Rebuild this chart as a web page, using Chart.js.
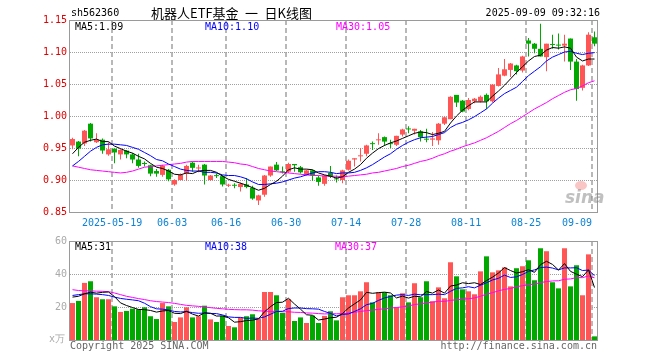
<!DOCTYPE html>
<html>
<head>
<meta charset="utf-8">
<script src="https://cdn.jsdelivr.net/npm/chart.js@4.4.1/dist/chart.umd.min.js"></script>
<style>
  body { margin: 0; background: #fff; }
  #wrap { position: relative; width: 660px; height: 360px; overflow: hidden;
          font-family: "DejaVu Sans Mono", monospace; font-size: 10px; }
  canvas { position: absolute; left: 0; }
  .t { position: absolute; white-space: pre; line-height: 12px; }
</style>
</head>
<body>
<div id="wrap">
  <canvas id="kChart" width="660" height="232" style="top:0"></canvas>
  <canvas id="volChart" width="660" height="128" style="top:232px"></canvas>

  <div class="t" style="left:71px;top:7px">sh562360</div>
  <div class="t" style="left:151px;top:5px;font:13px 'Noto Sans CJK SC';line-height:16px">机器人ETF基金&ensp;一&ensp;日K线图</div>
  <div class="t" style="right:60px;top:7px">2025-09-09 09:32:16</div>

  <div class="t" style="left:75px;top:21px;color:#000">MA5:1.09</div>
  <div class="t" style="left:205px;top:21px;color:#00f">MA10:1.10</div>
  <div class="t" style="left:336px;top:21px;color:#f0f">MA30:1.05</div>

  <div class="t" style="left:75px;top:241px;color:#000">MA5:31</div>
  <div class="t" style="left:205px;top:241px;color:#00f">MA10:38</div>
  <div class="t" style="left:335px;top:241px;color:#f0f">MA30:37</div>

  <div class="t" style="left:49px;top:333px;color:#aaa">x万</div>
  <div class="t" style="left:70px;top:340px;color:#666">Copyright 2025 SINA.COM</div>
  <div class="t" style="right:63px;top:340px;color:#666">http://finance.sina.com.cn</div>

  <div style="position:absolute;left:575px;top:181px;width:12px;height:9px;border-radius:50%;background:rgba(240,90,90,0.35)"></div>
  <div class="t" style="left:565px;top:188px;font:italic bold 17px 'DejaVu Sans';line-height:18px;color:rgba(130,130,130,0.5)">sina</div>
</div>

<script>
// trading days 2025-05-08 .. 2025-09-09
const dates = [
  '05-08','05-09','05-12','05-13','05-14','05-15','05-16','05-19','05-20','05-21',
  '05-22','05-23','05-26','05-27','05-28','05-29','05-30','06-03','06-04','06-05',
  '06-06','06-09','06-10','06-11','06-12','06-13','06-16','06-17','06-18','06-19',
  '06-20','06-23','06-24','06-25','06-26','06-27','06-30','07-01','07-02','07-03',
  '07-04','07-07','07-08','07-09','07-10','07-11','07-14','07-15','07-16','07-17',
  '07-18','07-21','07-22','07-23','07-24','07-25','07-28','07-29','07-30','07-31',
  '08-01','08-04','08-05','08-06','08-07','08-08','08-11','08-12','08-13','08-14',
  '08-15','08-18','08-19','08-20','08-21','08-22','08-25','08-26','08-27','08-28',
  '08-29','09-01','09-02','09-03','09-04','09-05','09-08','09-09'
];
const tickDates = ['05-19','06-03','06-16','06-30','07-14','07-28','08-11','08-25','09-09'];
const tickText = ['2025-05-19','06-03','06-16','06-30','07-14','07-28','08-11','08-25','09-09     '];
const priceTicks = [0.85, 0.90, 0.95, 1.00, 1.05, 1.10, 1.15];
const volTicks = [0, 20, 40, 60];

const opens = [
  .954,.960,.957,.988,.959,.963,.940,.949,.940,.946,
  .940,.932,.926,.923,.914,.908,.916,.893,.900,.910,
  .927,.918,.924,.900,.907,.906,.891,.892,.889,.893,
  .888,.868,.877,.907,.924,.913,.913,.925,.920,.908,
  .915,.904,.894,.911,.902,.900,.916,.932,.937,.941,
  .957,.962,.967,.957,.955,.971,.980,.977,.976,.964,
  .963,.962,.988,.995,1.033,1.024,1.011,1.023,1.023,1.033,
  1.023,1.047,1.063,1.072,1.079,1.071,1.118,1.113,1.105,1.092,
  1.112,1.111,1.110,1.121,1.085,1.044,1.079,1.123
];
const closes = [
  .964,.949,.977,.965,.963,.946,.948,.943,.947,.940,
  .932,.922,.925,.910,.910,.922,.901,.900,.908,.922,
  .919,.919,.907,.907,.906,.893,.892,.891,.894,.889,
  .871,.876,.907,.921,.915,.912,.925,.923,.912,.915,
  .907,.897,.907,.905,.901,.915,.930,.934,.938,.954,
  .956,.963,.960,.956,.969,.979,.979,.980,.967,.963,
  .965,.988,.998,1.030,1.021,1.007,1.025,1.027,1.030,1.023,
  1.049,1.065,1.073,1.082,1.070,1.093,1.113,1.105,1.093,1.113,
  1.111,1.110,1.113,1.085,1.042,1.079,1.127,1.113
];
const highs = [
  .966,.961,.978,.989,.973,.965,.959,.949,.948,.947,
  .942,.941,.929,.924,.917,.924,.917,.901,.910,.924,
  .929,.924,.925,.908,.910,.908,.894,.895,.896,.903,
  .891,.877,.908,.921,.928,.921,.927,.925,.922,.916,
  .916,.907,.908,.922,.907,.916,.932,.934,.950,.955,
  .960,.973,.968,.963,.969,.980,.984,.980,.978,.980,
  .975,.989,.999,1.031,1.033,1.025,1.028,1.028,1.032,1.035,
  1.050,1.075,1.089,1.083,1.080,1.094,1.122,1.114,1.144,1.113,
  1.127,1.129,1.127,1.121,1.089,1.080,1.131,1.132
];
const lows = [
  .948,.937,.953,.960,.958,.941,.938,.926,.932,.934,
  .926,.919,.921,.906,.905,.905,.898,.891,.900,.899,
  .913,.912,.893,.899,.903,.890,.889,.887,.882,.887,
  .869,.861,.874,.905,.914,.910,.911,.913,.910,.907,
  .899,.891,.891,.903,.896,.895,.915,.921,.929,.937,
  .947,.955,.953,.950,.953,.968,.973,.971,.960,.959,
  .953,.955,.986,.995,1.014,1.006,1.009,1.020,1.021,1.011,
  1.021,1.046,1.062,1.061,1.065,1.068,1.093,1.098,1.093,1.070,
  1.105,1.104,1.085,1.072,1.024,1.040,1.078,1.109
];
const ma5 = [
  .941,.951,.959,.962,.964,.960,.960,.953,.949,.945,
  .942,.937,.933,.926,.920,.918,.914,.909,.908,.911,
  .910,.914,.915,.915,.912,.906,.901,.898,.895,.892,
  .888,.884,.887,.893,.898,.906,.916,.919,.917,.917,
  .916,.911,.908,.906,.903,.905,.912,.917,.924,.934,
  .942,.949,.954,.958,.961,.965,.969,.973,.975,.974,
  .971,.973,.976,.989,1.000,1.009,1.016,1.022,1.022,1.022,
  1.031,1.039,1.048,1.058,1.068,1.077,1.086,1.093,1.095,1.103,
  1.107,1.106,1.108,1.106,1.092,1.086,1.089,1.089
];
const ma10 = [
  .922,.929,.937,.945,.951,.955,.956,.956,.955,.954,
  .951,.948,.943,.938,.932,.930,.925,.921,.917,.915,
  .914,.914,.912,.912,.911,.908,.907,.907,.905,.902,
  .897,.893,.893,.894,.895,.897,.900,.903,.905,.908,
  .911,.913,.913,.912,.910,.911,.911,.912,.915,.919,
  .924,.930,.936,.941,.948,.954,.959,.963,.966,.967,
  .968,.971,.974,.982,.987,.990,.994,.999,1.005,1.011,
  1.020,1.028,1.035,1.040,1.045,1.054,1.063,1.070,1.077,1.086,
  1.092,1.096,1.100,1.101,1.098,1.096,1.098,1.099
];
const ma30 = [
  .922,.920,.918,.916,.915,.914,.913,.912,.911,.912,
  .914,.917,.920,.921,.922,.923,.924,.925,.926,.928,
  .929,.929,.929,.929,.929,.929,.928,.927,.925,.924,
  .921,.918,.916,.914,.913,.912,.911,.910,.909,.908,
  .907,.907,.906,.906,.906,.905,.906,.907,.908,.909,
  .911,.912,.914,.916,.918,.921,.923,.926,.929,.931,
  .934,.938,.941,.945,.948,.952,.955,.958,.962,.966,
  .971,.976,.982,.988,.993,.999,1.005,1.011,1.016,1.021,
  1.027,1.032,1.037,1.041,1.043,1.047,1.052,1.055
];

const volumes = [
  22.4,23.7,34.6,35.6,25.9,24.7,24.7,20.4,17.0,17.6,
  19.0,18.6,19.8,14.4,12.7,22.4,20.4,10.9,13.7,19.8,
  13.7,14.4,20.8,12.5,10.9,14.6,8.5,7.7,13.7,14.4,
  15.6,12.7,29.1,29.1,27.1,16.4,24.7,11.5,13.7,10.3,
  14.8,10.3,14.6,17.4,11.9,25.9,27.1,27.1,29.5,35.0,
  22.8,28.9,28.9,27.1,19.8,28.3,22.8,34.4,25.9,35.6,
  23.5,31.9,25.3,47.1,38.6,30.7,29.5,27.7,41.6,50.7,
  41.0,42.2,44.0,32.5,43.5,44.7,48.3,36.2,55.6,53.8,
  35.0,31.3,55.6,32.5,45.3,27.1,51.9,2.2
];
const vma5 = [
  26.0,26.5,28.0,29.0,28.4,28.9,29.1,26.3,22.5,20.9,
  19.7,18.5,18.4,17.9,16.9,17.6,17.9,16.2,16.0,17.4,
  15.7,14.5,16.5,16.2,14.5,14.6,13.5,10.8,11.1,11.8,
  12.0,12.8,17.1,20.2,22.7,22.9,25.3,21.8,18.7,15.3,
  15.0,12.1,12.7,13.5,13.8,16.0,19.4,21.9,24.3,28.9,
  28.3,28.7,29.0,28.5,25.5,26.6,25.4,26.5,26.2,29.4,
  28.4,30.3,28.4,32.7,33.3,34.7,34.2,34.7,33.6,36.0,
  38.1,40.6,43.9,42.1,40.6,41.4,42.6,41.0,45.7,47.7,
  45.8,42.4,46.3,41.6,39.9,38.4,42.5,31.8
];
const vma10 = [
  27.0,27.5,28.0,28.0,27.8,27.5,27.0,26.0,25.2,24.7,
  24.3,23.8,22.3,20.2,18.9,18.7,18.2,17.3,17.0,17.2,
  16.6,16.2,16.3,16.1,16.0,15.2,14.0,13.7,13.7,13.1,
  13.3,13.1,14.0,15.6,17.3,17.4,19.1,19.4,19.4,19.0,
  18.9,18.7,17.3,16.1,14.6,15.5,15.8,17.3,18.9,21.4,
  22.2,24.0,25.5,26.4,27.2,27.5,27.0,27.8,27.4,27.5,
  27.5,27.8,27.5,29.5,31.3,31.6,32.3,31.6,33.2,34.7,
  36.4,37.4,39.3,37.9,38.3,39.7,41.6,42.5,43.9,44.2,
  43.6,42.5,43.7,43.7,43.8,42.1,42.4,39.0
];
const vma30 = [
  30.5,30.0,29.8,29.8,29.6,29.5,29.3,28.5,27.5,26.5,
  25.8,25.1,24.5,23.8,23.3,23.0,22.7,22.2,21.6,21.0,
  20.7,20.4,20.0,19.6,19.2,18.9,18.6,18.4,18.3,18.3,
  18.1,17.7,17.5,17.3,17.4,17.1,17.1,16.8,16.7,16.4,
  16.3,16.0,15.8,15.9,15.9,16.0,16.3,16.8,17.3,17.8,
  18.1,18.6,18.9,19.4,19.7,20.1,20.6,21.5,21.9,22.6,
  22.9,23.5,23.4,24.0,24.4,24.8,25.0,25.5,26.5,27.8,
  28.7,29.8,30.7,31.2,32.3,32.9,33.6,33.9,34.8,35.4,
  35.8,35.9,36.8,37.0,37.8,37.8,38.8,37.7
];

const RED = '#ff5555', GREEN = '#00a800';
const mono = { family: 'DejaVu Sans Mono', size: 10 };
const tickIdx = tickDates.map(d => dates.indexOf(d));
const isUp = i => closes[i] >= opens[i];
const candleColor = ctx => isUp(ctx.dataIndex) ? RED : GREEN;
const pts = arr => arr.map((v, i) => ({ x: i, y: v }));

// dashed date lines and dotted value lines (drawn as little rects), then the grey box
const frame = {
  id: 'frame',
  beforeDatasetsDraw(chart) {
    const a = chart.chartArea, c = chart.ctx;
    const xs = chart.scales.x, ys = chart.scales.y;
    c.save();
    c.fillStyle = '#b8b8b8';
    tickIdx.forEach(i => {
      const px = Math.round(xs.getPixelForValue(i - 0.4));
      for (let y = Math.round(a.top); y < a.bottom; y += 8) {
        c.fillRect(px - 1, y, 2, Math.min(5, a.bottom - y));
      }
    });
    c.fillStyle = '#a0a0a0';
    ys.ticks.forEach(t => {
      const py = Math.round(ys.getPixelForValue(t.value));
      for (let x = Math.round(a.left); x < a.right; x += 2) {
        c.fillRect(x, py, 1, 1);
      }
    });
    c.restore();
  },
  afterDraw(chart) {
    const a = chart.chartArea, c = chart.ctx;
    c.save();
    c.strokeStyle = '#9a9a9a';
    c.lineWidth = 1;
    c.strokeRect(a.left - 0.5, a.top + 0.5, a.right - a.left, a.bottom - a.top);
    c.restore();
  }
};

function xAxis(showLabels) {
  return {
    type: 'linear',
    offset: false,
    min: -5 / 12,
    max: dates.length - 5 / 12,
    afterBuildTicks: s => { s.ticks = tickIdx.map(i => ({ value: i - 0.4 })); },
    afterFit: s => { s.height = 20; },
    grid: { display: false, drawTicks: false },
    border: { display: false },
    ticks: {
      display: showLabels, autoSkip: false, maxRotation: 0, padding: 5,
      color: '#0d82d6', font: mono,
      callback: (v, i) => tickText[i]
    }
  };
}

function lineSet(data, color) {
  return { type: 'line', data: pts(data), borderColor: color, borderWidth: 1,
           pointRadius: 0, tension: 0, order: 0 };
}

const common = {
  responsive: false, animation: false, devicePixelRatio: 1, events: [],
  plugins: { legend: { display: false }, tooltip: { enabled: false } }
};

new Chart(document.getElementById('kChart'), {
  type: 'bar',
  data: {
    datasets: [
      lineSet(ma5, '#000'),
      lineSet(ma10, '#0000ff'),
      lineSet(ma30, '#ff00ff'),
      { data: lows.map((l, i) => ({ x: i, y: [l, highs[i]] })), backgroundColor: candleColor,
        barThickness: 1, grouped: false, inflateAmount: 0, order: 2 },
      { data: opens.map((o, i) => ({ x: i, y: [o, closes[i]] })), backgroundColor: candleColor,
        barThickness: 5, grouped: false, inflateAmount: 0, minBarLength: 1, order: 1 }
    ]
  },
  options: {
    ...common,
    layout: { padding: { top: 20, right: 62, left: 0, bottom: 0 } },
    scales: {
      x: xAxis(true),
      y: {
        min: 0.85, max: 1.15,
        afterBuildTicks: s => { s.ticks = priceTicks.map(v => ({ value: v })); },
        afterFit: s => { s.width = 70; },
        grid: { display: false, drawTicks: false },
        border: { display: false },
        ticks: { color: '#e00000', font: mono, padding: 3, callback: v => v.toFixed(2) }
      }
    }
  },
  plugins: [frame]
});

new Chart(document.getElementById('volChart'), {
  type: 'bar',
  data: {
    datasets: [
      lineSet(vma5, '#000'),
      lineSet(vma10, '#0000ff'),
      lineSet(vma30, '#ff00ff'),
      { data: pts(volumes), backgroundColor: candleColor, barThickness: 5,
        grouped: false, inflateAmount: 0, order: 1 }
    ]
  },
  options: {
    ...common,
    layout: { padding: { top: 9, right: 62, left: 0, bottom: 0 } },
    scales: {
      x: xAxis(false),
      y: {
        min: 0, max: 60,
        afterBuildTicks: s => { s.ticks = volTicks.map(v => ({ value: v })); },
        afterFit: s => { s.width = 70; },
        grid: { display: false, drawTicks: false },
        border: { display: false },
        ticks: { color: '#aaa', font: mono, padding: 3, callback: v => v === 0 ? '' : v }
      }
    }
  },
  plugins: [frame]
});
</script>
</body>
</html>
